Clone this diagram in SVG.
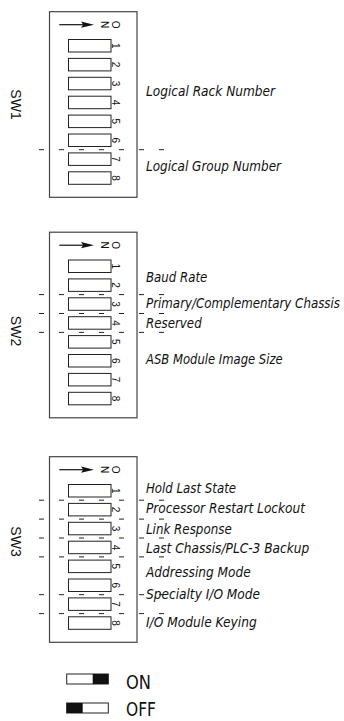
<svg xmlns="http://www.w3.org/2000/svg" xmlns:xlink="http://www.w3.org/1999/xlink" width="344" height="721" viewBox="0 0 344 721">
<style>
.box{fill:#fff;stroke:#444;stroke-width:1.2}
.sw{fill:#fff;stroke:#222;stroke-width:1}
.dig{font-family:"Liberation Sans",Arial,sans-serif;font-size:10px;fill:#111;text-anchor:middle;dominant-baseline:central}
.swl{font-family:"Liberation Sans",Arial,sans-serif;font-size:14px;fill:#111;text-anchor:middle}
.lbl{font-family:"Liberation Sans Narrow","DejaVu Sans Condensed","Liberation Sans",sans-serif;font-style:italic;font-size:14px;fill:#111}
.dash{stroke:#222;stroke-width:1;stroke-dasharray:5 15;fill:none}
.leg{font-family:"Liberation Sans Narrow","DejaVu Sans Condensed","Liberation Sans",sans-serif;font-size:19px;fill:#111}
</style>
<defs>
<g id="dip">
<rect class="box" x="49.5" y="11.7" width="87.5" height="185.6"/>
<line x1="59.3" y1="24.7" x2="86" y2="24.7" stroke="#111" stroke-width="1.2"/>
<polygon points="94,24.7 81,21.6 83.2,24.7 81,27.8" fill="#111"/>
<text class="dig" transform="translate(104,24.7) rotate(90)">N</text>
<text class="dig" transform="translate(115.5,24.7) rotate(90)">O</text>
<rect class="sw" x="68.5" y="39.5" width="42.5" height="12.5"/>
<rect class="sw" x="68.5" y="58.4" width="42.5" height="12.5"/>
<rect class="sw" x="68.5" y="77.3" width="42.5" height="12.5"/>
<rect class="sw" x="68.5" y="96.2" width="42.5" height="12.5"/>
<rect class="sw" x="68.5" y="115.1" width="42.5" height="12.5"/>
<rect class="sw" x="68.5" y="134" width="42.5" height="12.5"/>
<rect class="sw" x="68.5" y="152.9" width="42.5" height="12.5"/>
<rect class="sw" x="68.5" y="171.8" width="42.5" height="12.5"/>
<text class="dig" transform="translate(115.5,45.75) rotate(90)">1</text>
<text class="dig" transform="translate(115.5,64.65) rotate(90)">2</text>
<text class="dig" transform="translate(115.5,83.55) rotate(90)">3</text>
<text class="dig" transform="translate(115.5,102.45) rotate(90)">4</text>
<text class="dig" transform="translate(115.5,121.35) rotate(90)">5</text>
<text class="dig" transform="translate(115.5,140.25) rotate(90)">6</text>
<text class="dig" transform="translate(115.5,159.15) rotate(90)">7</text>
<text class="dig" transform="translate(115.5,178.05) rotate(90)">8</text>
</g>
</defs>

<g id="sw1">
<use xlink:href="#dip" href="#dip"/>
<text class="swl" transform="translate(10.5,104.5) rotate(90)">SW1</text>
<text class="lbl" x="146" y="95.7" textLength="129" lengthAdjust="spacingAndGlyphs">Logical Rack Number</text>
<text class="lbl" x="146" y="170.7" textLength="135" lengthAdjust="spacingAndGlyphs">Logical Group Number</text>
</g>

<g id="sw2">
<use xlink:href="#dip" href="#dip" y="220.5"/>
<text class="swl" transform="translate(10.5,331) rotate(90)">SW2</text>
<text class="lbl" x="146" y="282" textLength="61.3" lengthAdjust="spacingAndGlyphs">Baud Rate</text>
<text class="lbl" x="146" y="308.3" textLength="194" lengthAdjust="spacingAndGlyphs">Primary/Complementary Chassis</text>
<text class="lbl" x="146" y="327.8" textLength="55.7" lengthAdjust="spacingAndGlyphs">Reserved</text>
<text class="lbl" x="146" y="364" textLength="136.7" lengthAdjust="spacingAndGlyphs">ASB Module Image Size</text>
</g>

<g id="sw3">
<use xlink:href="#dip" href="#dip" y="445"/>
<text class="swl" transform="translate(10.5,541.5) rotate(90)">SW3</text>
<text class="lbl" x="146" y="492.7" textLength="90" lengthAdjust="spacingAndGlyphs">Hold Last State</text>
<text class="lbl" x="146" y="513.3" textLength="159" lengthAdjust="spacingAndGlyphs">Processor Restart Lockout</text>
<text class="lbl" x="146" y="533.8" textLength="85.7" lengthAdjust="spacingAndGlyphs">Link Response</text>
<text class="lbl" x="146" y="553.3" textLength="163.3" lengthAdjust="spacingAndGlyphs">Last Chassis/PLC-3 Backup</text>
<text class="lbl" x="146" y="576.7" textLength="104.7" lengthAdjust="spacingAndGlyphs">Addressing Mode</text>
<text class="lbl" x="146" y="599.3" textLength="114" lengthAdjust="spacingAndGlyphs">Specialty I/O Mode</text>
<text class="lbl" x="146" y="626.7" textLength="110.7" lengthAdjust="spacingAndGlyphs">I/O Module Keying</text>
</g>

<g id="connectors">
<line class="dash" x1="39" y1="149.7" x2="164" y2="149.7"/>
<line class="dash" x1="39" y1="294.6" x2="164" y2="294.6"/>
<line class="dash" x1="39" y1="313.5" x2="164" y2="313.5"/>
<line class="dash" x1="39" y1="332.4" x2="164" y2="332.4"/>
<line class="dash" x1="39" y1="500.2" x2="164" y2="500.2"/>
<line class="dash" x1="39" y1="519.1" x2="164" y2="519.1"/>
<line class="dash" x1="39" y1="538" x2="164" y2="538"/>
<line class="dash" x1="39" y1="556.9" x2="164" y2="556.9"/>
<line class="dash" x1="39" y1="594.7" x2="164" y2="594.7"/>
<line class="dash" x1="39" y1="613.6" x2="164" y2="613.6"/>
</g>

<g id="legend-on">
<rect class="sw" x="66.7" y="674" width="41.6" height="10"/>
<rect x="92.7" y="674" width="15.6" height="10" fill="#111"/>
<text class="leg" x="126" y="689" textLength="25" lengthAdjust="spacingAndGlyphs">ON</text>
</g>
<g id="legend-off">
<rect class="sw" x="66.7" y="703" width="41.6" height="10"/>
<rect x="66.7" y="703" width="16" height="10" fill="#111"/>
<text class="leg" x="126" y="716" textLength="30" lengthAdjust="spacingAndGlyphs">OFF</text>
</g>
</svg>
